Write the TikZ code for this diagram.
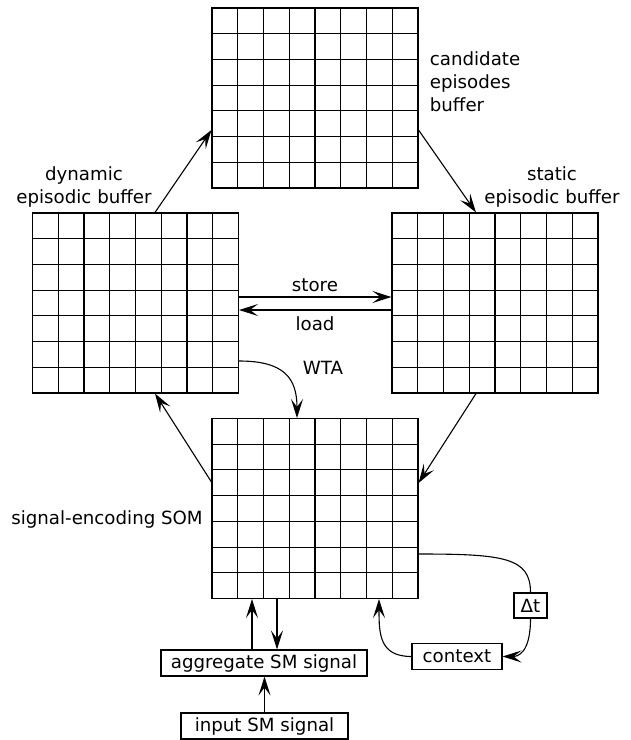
\documentclass[tikz,border=0pt]{standalone}
\usepackage{fontspec}
\setmainfont{DejaVu Sans}
\usetikzlibrary{calc,arrows.meta}
\begin{document}
\begin{tikzpicture}[x=1pt,y=-1pt, line width=1.1pt,
  every node/.style={font=\fontsize{18.2}{22.8}\selectfont},
  som/.style={draw, minimum width=206pt, minimum height=180pt, inner sep=0pt,
    path picture={
      \foreach \i in {1,...,7}
        \draw ($(path picture bounding box.south west)!\i/8!(path picture bounding box.south east)$) --
              ($(path picture bounding box.north west)!\i/8!(path picture bounding box.north east)$);
      \foreach \j in {1,...,6}
        \draw ($(path picture bounding box.south west)!\j/7!(path picture bounding box.north west)$) --
              ($(path picture bounding box.south east)!\j/7!(path picture bounding box.north east)$);
    }},
  box/.style={draw, inner xsep=3pt, inner ysep=1pt, minimum height=26pt},
  arr/.style={-{Stealth[length=19pt,width=12pt,inset=8pt]}},
]
\useasboundingbox (0,0) rectangle (631,740);

% grids
\node[som] (cand) at (315,98) {};
\node[som] (dyn) at (135.5,303) {};
\node[som] (stat) at (495,303) {};
\node[som] (sig) at (315,508.5) {};

% labels
\node[anchor=west, align=left] (lcand) at (426,82) {candidate\\episodes\\buffer};
\node[align=center] (ldyn) at (84,187) {dynamic\\episodic buffer};
\node[align=center] (lstat) at (552,187) {static\\episodic buffer};
\node (lsig) at (107,519) {signal-encoding SOM};
\node (lstore) at (315,285) {store};
\node (lload) at (315,324) {load};
\node (lwta) at (323,368) {WTA};

% boxes
\node[box, minimum width=206pt] (agg) at (264,663) {aggregate SM signal};
\node[box, minimum width=167pt] (inp) at (264.5,726) {input SM signal};
\node[box, minimum width=33pt, minimum height=25pt, inner xsep=1pt] (dt) at (530.5,605.5) {Δt};
\node[box, minimum width=90pt] (ctx) at (457,656.5) {context};

% connectors
\draw[arr] ([xshift=19.5pt]dyn.north) -- ([yshift=-32pt]cand.west);
\draw[arr] ([yshift=-32pt]cand.east) -- ([xshift=-19pt]stat.north);
\draw[arr] ([xshift=-19pt]stat.south) -- ([yshift=25.5pt]sig.east);
\draw[arr] ([yshift=26.5pt]sig.west) -- ([xshift=19.5pt]dyn.south);
\draw[arr] ([yshift=6pt]dyn.east) -- ([yshift=6pt]stat.west);
\draw[arr] ([yshift=-7pt]stat.west) -- ([yshift=-7pt]dyn.east);
\draw[arr] ([yshift=-58pt]dyn.east) .. controls +(45,0) and +(0,-40) .. ([xshift=-18pt]sig.north);
\draw[arr] ([xshift=-12pt]agg.north) -- ([xshift=-12pt]agg.north |- sig.south);
\draw[arr] ([xshift=13pt]agg.north |- sig.south) -- ([xshift=13pt]agg.north);
\draw[arr] (inp.north) -- (inp.north |- agg.south);
\draw ([yshift=-45.5pt]sig.east) .. controls +(85,0) and +(0,-35) .. (dt.north);
\draw[arr] (dt.south) .. controls +(0,35) and +(15,0) .. (ctx.east);
\draw[arr] (ctx.west) .. controls +(-32,0) and +(0,35) .. ([xshift=64pt]sig.south);
\end{tikzpicture}
\end{document}
